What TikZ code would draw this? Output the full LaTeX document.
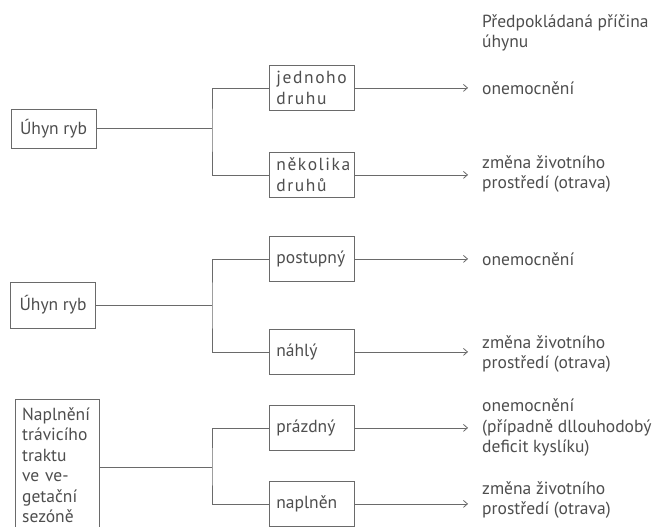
\documentclass[tikz,border=0pt]{standalone}
\usepackage{fontspec}
\setmainfont{PT Sans}
\newfontfamily\spacedfont[LetterSpace=9]{PT Sans}
\usetikzlibrary{arrows.meta}
\definecolor{txtgray}{HTML}{4E4E4E}
\definecolor{linegray}{HTML}{6A6A6A}
\begin{document}
\begin{tikzpicture}[x=1pt,y=-1pt,
  font=\fontsize{17.5}{20.5}\selectfont,
  every node/.style={text=txtgray},
  boxnode/.style={draw=linegray, line width=0.8pt, text width=71pt, inner xsep=7pt, inner ysep=0pt, minimum height=45pt, align=left},
  srcbox/.style={draw=linegray, line width=0.8pt, minimum width=85pt, align=center},
  causetxt/.style={anchor=west, align=left, inner xsep=14pt, inner ysep=0pt},
  conn/.style={draw=linegray, line width=0.8pt},
  arr/.style={conn, -{Straight Barb[length=4pt,width=7pt]}}
]
\useasboundingbox (0,0) rectangle (653,527);
\fill[white] (0,0) rectangle (653,527);

% header
\node[anchor=west, align=left, inner sep=0pt] (hdr) at (482,33) {Předpokládaná příčina\\úhynu};

% ---------- section 1 ----------
\node[srcbox, minimum height=39pt] (a1) at (53.5,128.5) {Úhyn ryb};
\coordinate (j1) at (212,128.5);
\node[boxnode, anchor=north west] (b11) at (269,65) {\spacedfont jednoho\\druhu};
\node[boxnode, anchor=north west] (b12) at (269,152) {\spacedfont několika\\druhů};
\node[causetxt] (t11) at (468,88) {onemocnění};
\node[causetxt] (t12) at (468,174) {změna životního\\prostředí (otrava)};
\draw[conn] (a1.east) -- (j1);
\draw[conn] (b11.west) -| (j1) |- (b12.west);
\draw[arr] (b11.east) -- (b11.east -| t11.west);
\draw[arr] (b12.east) -- (b12.east -| t12.west);

% ---------- section 2 ----------
\node[srcbox, minimum height=46pt] (a2) at (53,305) {Úhyn ryb};
\coordinate (j2) at (212,305);
\node[boxnode, anchor=north west] (b21) at (269,236) {postupný};
\node[boxnode, anchor=north west] (b22) at (269,329) {náhlý};
\node[causetxt] (t21) at (468,259) {onemocnění};
\node[causetxt] (t22) at (468,354) {změna životního\\prostředí (otrava)};
\draw[conn] (a2.east) -- (j2);
\draw[conn] (b21.west) -| (j2) |- (b22.west);
\draw[arr] (b21.east) -- (b21.east -| t21.west);
\draw[arr] (b22.east) -- (b22.east -| t22.west);

% ---------- section 3 ----------
\node[text width=70pt, inner xsep=7pt, inner ysep=8pt, align=left, anchor=north west] (a3) at (15,399)
  {Naplnění\\trávicího\\traktu\\ve ve-\\getační\\sezóně};
\draw[conn] (a3.north west) rectangle ([yshift=-20pt]a3.south east);
\coordinate (j3) at (212,467);
\node[boxnode, anchor=north west] (b31) at (269,405) {prázdný};
\node[boxnode, anchor=north west] (b32) at (269,481) {naplněn};
\node[causetxt] (t31) at (468,428) {onemocnění\\(případně dllouhodobý\\deficit kyslíku)};
\node[causetxt] (t32) at (468,500) {změna životního\\prostředí (otrava)};
\draw[conn] (a3.east |- j3) -- (j3);
\draw[conn] (b31.west) -| (j3) |- (b32.west);
\draw[arr] (b31.east) -- (b31.east -| t31.west);
\draw[arr] (b32.east) -- (b32.east -| t32.west);
\end{tikzpicture}
\end{document}
